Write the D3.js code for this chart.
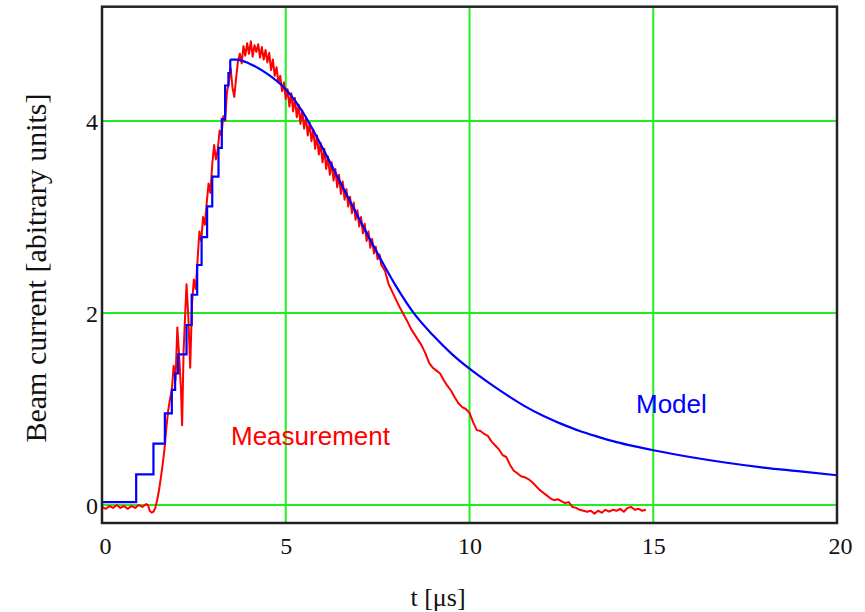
<!DOCTYPE html>
<html>
<head>
<meta charset="utf-8">
<script src="https://cdn.jsdelivr.net/npm/d3@7"></script>
<style>
  html, body { margin: 0; padding: 0; background: #fff; }
  svg { display: block; }
</style>
</head>
<body>
<svg id="chart" width="865" height="612"></svg>
<script>
// ---- data ----
const xTicks = [0, 5, 10, 15, 20];
const yTicks = [0, 2, 4];
const xTickLabels = ["0", "5", "10", "15", "20"];
const yTickLabels = ["0", "2", "4"];

// Model: staircase rise (step-after)
const modelStepT = [0, 0.93, 1.40, 1.71, 1.90, 1.99, 2.07, 2.30, 2.44, 2.59, 2.71, 2.86, 3.00, 3.17, 3.26, 3.35, 3.44, 3.49];
const modelStepY = [0.03, 0.32, 0.64, 0.955, 1.20, 1.37, 1.57, 1.875, 2.19, 2.50, 2.79, 3.11, 3.42, 3.72, 4.02, 4.37, 4.50, 4.64];
// Model: smooth decay
const modelDecayT = [3.49, 3.66, 4.0, 4.5, 5.0, 5.5, 6.0, 6.5, 7.0, 7.5, 8.0, 8.5, 9.0, 9.5, 10.0, 10.5, 11.0, 11.5, 12.0, 12.5, 13.0, 13.5, 14.0, 14.5, 15.0, 16.0, 17.0, 18.0, 19.0, 20.0];
const modelDecayY = [4.64, 4.64, 4.60, 4.49, 4.33, 4.07, 3.72, 3.35, 2.98, 2.62, 2.28, 1.99, 1.77, 1.58, 1.42, 1.28, 1.15, 1.03, 0.93, 0.845, 0.77, 0.71, 0.655, 0.61, 0.57, 0.50, 0.44, 0.39, 0.35, 0.31];

// Measurement
const measT = [
  0.0, 0.1, 0.2, 0.3, 0.4, 0.5, 0.6, 0.7, 0.8, 0.9, 1.0, 1.1, 1.2, 1.25, 1.3, 1.35, 1.4,
  1.45, 1.5, 1.55, 1.6, 1.65, 1.7, 1.75, 1.8, 1.85, 1.9, 1.95, 2.0, 2.05, 2.1, 2.15, 2.18,
  2.22, 2.27, 2.3, 2.35, 2.4, 2.45, 2.5, 2.55, 2.6, 2.65, 2.7, 2.75, 2.8, 2.85, 2.9, 2.95,
  3.0, 3.05, 3.1, 3.15, 3.2, 3.25, 3.3, 3.35, 3.4, 3.45, 3.5, 3.55, 3.6, 3.65, 3.7, 3.75,
  3.8, 3.85, 3.9, 3.95, 4.0, 4.05, 4.1, 4.15, 4.2, 4.25, 4.3, 4.35, 4.4, 4.45, 4.5, 4.55,
  4.6, 4.65, 4.7, 4.75, 4.8, 4.85, 4.9, 4.95, 5.0, 5.05, 5.1, 5.15, 5.2, 5.25, 5.3, 5.35,
  5.4, 5.45, 5.5, 5.55, 5.6, 5.65, 5.7, 5.75, 5.8, 5.85, 5.9, 5.95, 6.0, 6.05, 6.1, 6.15,
  6.2, 6.25, 6.3, 6.35, 6.4, 6.45, 6.5, 6.55, 6.6, 6.65, 6.7, 6.75, 6.8, 6.85, 6.9, 6.95,
  7.0, 7.05, 7.1, 7.15, 7.2, 7.25, 7.3, 7.35, 7.4, 7.45, 7.5, 7.55, 7.6, 7.7, 7.8, 7.9,
  8.0, 8.1, 8.2, 8.3, 8.4, 8.5, 8.6, 8.7, 8.8, 8.9, 9.0, 9.1, 9.2, 9.3, 9.4, 9.5, 9.6,
  9.7, 9.8, 9.9, 10.0, 10.1, 10.2, 10.3, 10.4, 10.5, 10.6, 10.7, 10.8, 10.9, 11.0, 11.1,
  11.2, 11.3, 11.4, 11.5, 11.6, 11.7, 11.8, 11.9, 12.0, 12.1, 12.2, 12.3, 12.4, 12.5, 12.6,
  12.7, 12.8, 12.9, 13.0, 13.1, 13.2, 13.3, 13.4, 13.5, 13.6, 13.7, 13.8, 13.9, 14.0, 14.1,
  14.2, 14.3, 14.4, 14.5, 14.6, 14.7, 14.8
];
const measY = [
  -0.02, -0.04, -0.01, -0.03, 0.00, -0.03, -0.01, -0.04, -0.01, -0.03, 0.00, -0.02, 0.01, 0.00, -0.06, -0.08, -0.07,
  -0.03, 0.05, 0.15, 0.28, 0.42, 0.58, 0.80, 0.98, 1.10, 1.20, 1.45, 1.30, 1.85, 1.55, 1.20, 0.83,
  1.60, 2.05, 2.30, 1.95, 1.43, 2.10, 2.35, 2.25, 2.55, 2.85, 2.75, 3.00, 2.92, 3.15, 3.35, 3.25,
  3.55, 3.75, 3.60, 3.70, 3.90, 3.85, 4.05, 4.00, 4.30, 4.40, 4.55, 4.35, 4.25, 4.45, 4.62, 4.70,
  4.60, 4.78, 4.68, 4.81, 4.70, 4.83, 4.67, 4.79, 4.72, 4.80, 4.66, 4.77, 4.64, 4.74, 4.61, 4.71,
  4.53, 4.64, 4.47, 4.56, 4.40, 4.47, 4.31, 4.40, 4.23, 4.33, 4.15, 4.29, 4.10, 4.24, 4.04, 4.17,
  3.97, 4.11, 3.92, 4.04, 3.85, 3.98, 3.79, 3.91, 3.71, 3.85, 3.65, 3.77, 3.57, 3.71, 3.50, 3.63,
  3.44, 3.57, 3.38, 3.50, 3.31, 3.44, 3.24, 3.37, 3.18, 3.29, 3.11, 3.21, 3.04, 3.15, 2.97, 3.07,
  2.90, 3.00, 2.83, 2.93, 2.75, 2.85, 2.68, 2.77, 2.62, 2.69, 2.56, 2.61, 2.50, 2.44, 2.30, 2.22,
  2.14, 2.06, 1.99, 1.92, 1.84, 1.78, 1.72, 1.66, 1.58, 1.48, 1.43, 1.40, 1.37, 1.30, 1.24, 1.19, 1.12,
  1.06, 1.02, 1.00, 0.96, 0.86, 0.78, 0.77, 0.74, 0.72, 0.66, 0.62, 0.58, 0.52, 0.50, 0.42,
  0.36, 0.33, 0.30, 0.29, 0.27, 0.24, 0.20, 0.16, 0.13, 0.10, 0.07, 0.05, 0.06, 0.04, 0.02,
  0.03, -0.02, -0.03, -0.05, -0.06, -0.07, -0.06, -0.09, -0.06, -0.08, -0.05, -0.07, -0.05, -0.06, -0.04,
  -0.07, -0.03, -0.02, -0.05, -0.04, -0.06, -0.05
];

const labelMeasurement = "Measurement";
const labelModel = "Model";
const xTitle = "t [\u03bcs]";
const yTitle = "Beam current [abitrary units]";

// ---- layout ----
const svg = d3.select("#chart");
const pLeft = 102, pRight = 837, pTop = 6.7, pBottom = 523;
const x = d3.scaleLinear().domain([0, 20]).range([pLeft, pRight]);
const y = d3.scaleLinear().domain([0, 4]).range([505, 121]);

const GREEN = "#22ee22";

// grid lines
const g = svg.append("g");
g.selectAll("line.vx").data(xTicks.filter(t => t > 0 && t < 20)).enter().append("line")
  .attr("x1", d => x(d)).attr("x2", d => x(d)).attr("y1", pTop).attr("y2", pBottom)
  .attr("stroke", GREEN).attr("stroke-width", 2);
g.selectAll("line.hy").data(yTicks).enter().append("line")
  .attr("x1", pLeft).attr("x2", pRight).attr("y1", d => y(d)).attr("y2", d => y(d))
  .attr("stroke", GREEN).attr("stroke-width", 2);

// measurement
const meas = measT.map((t, i) => [t, measY[i]]);
svg.append("path").datum(meas)
  .attr("d", d3.line().x(d => x(d[0])).y(d => y(d[1])))
  .attr("fill", "none").attr("stroke", "#ff0000").attr("stroke-width", 2).attr("stroke-linejoin", "round");

// model
const mStep = modelStepT.map((t, i) => [t, modelStepY[i]]);
svg.append("path").datum(mStep)
  .attr("d", d3.line().curve(d3.curveStepAfter).x(d => x(d[0])).y(d => y(d[1])))
  .attr("fill", "none").attr("stroke", "#0000ff").attr("stroke-width", 2.2);
const mDecay = modelDecayT.map((t, i) => [t, modelDecayY[i]]);
svg.append("path").datum(mDecay)
  .attr("d", d3.line().curve(d3.curveMonotoneX).x(d => x(d[0])).y(d => y(d[1])))
  .attr("fill", "none").attr("stroke", "#0000ff").attr("stroke-width", 2.2);

// frame
svg.append("rect").attr("x", pLeft).attr("y", pTop).attr("width", pRight - pLeft).attr("height", pBottom - pTop)
  .attr("fill", "none").attr("stroke", "#222").attr("stroke-width", 2.5);

// axes (labels only, using d3 axis generators)
const xAxis = d3.axisBottom(x).tickValues(xTicks).tickFormat((d, i) => xTickLabels[i]).tickSize(0).tickPadding(0);
const xa = svg.append("g").attr("transform", `translate(0, ${pBottom})`).call(xAxis);
xa.select(".domain").remove();
xa.selectAll("text").attr("dy", null).attr("y", 31)
  .attr("font-family", "'Liberation Serif', 'Times New Roman', serif").attr("font-size", 24).attr("fill", "#111");
xa.selectAll("text").filter((d, i) => i === 0).attr("dx", 3);
xa.selectAll("text").filter((d, i) => i === xTicks.length - 1).attr("dx", 3);

const yAxis = d3.axisLeft(y).tickValues(yTicks).tickFormat((d, i) => yTickLabels[i]).tickSize(0).tickPadding(4);
const ya = svg.append("g").attr("transform", `translate(${pLeft}, 0)`).call(yAxis);
ya.select(".domain").remove();
ya.selectAll("text").attr("dy", "0.34em")
  .attr("font-family", "'Liberation Serif', 'Times New Roman', serif").attr("font-size", 24).attr("fill", "#111");

// titles
svg.append("text").attr("x", 438).attr("y", 606).attr("text-anchor", "middle")
  .attr("font-family", "'Liberation Serif', 'Times New Roman', serif").attr("font-size", 26).attr("fill", "#111")
  .text(xTitle);
svg.append("text").attr("transform", "translate(46, 268) rotate(-90)").attr("text-anchor", "middle")
  .attr("font-family", "'Liberation Serif', 'Times New Roman', serif").attr("font-size", 30).attr("fill", "#111")
  .text(yTitle);

// series labels
svg.append("text").attr("x", x(3.51)).attr("y", y(0.625))
  .attr("font-family", "'Liberation Sans', Arial, sans-serif").attr("font-size", 26).attr("fill", "#ff0000")
  .text(labelMeasurement);
svg.append("text").attr("x", x(14.53)).attr("y", y(0.96))
  .attr("font-family", "'Liberation Sans', Arial, sans-serif").attr("font-size", 26).attr("fill", "#0000ff")
  .text(labelModel);
</script>
</body>
</html>
